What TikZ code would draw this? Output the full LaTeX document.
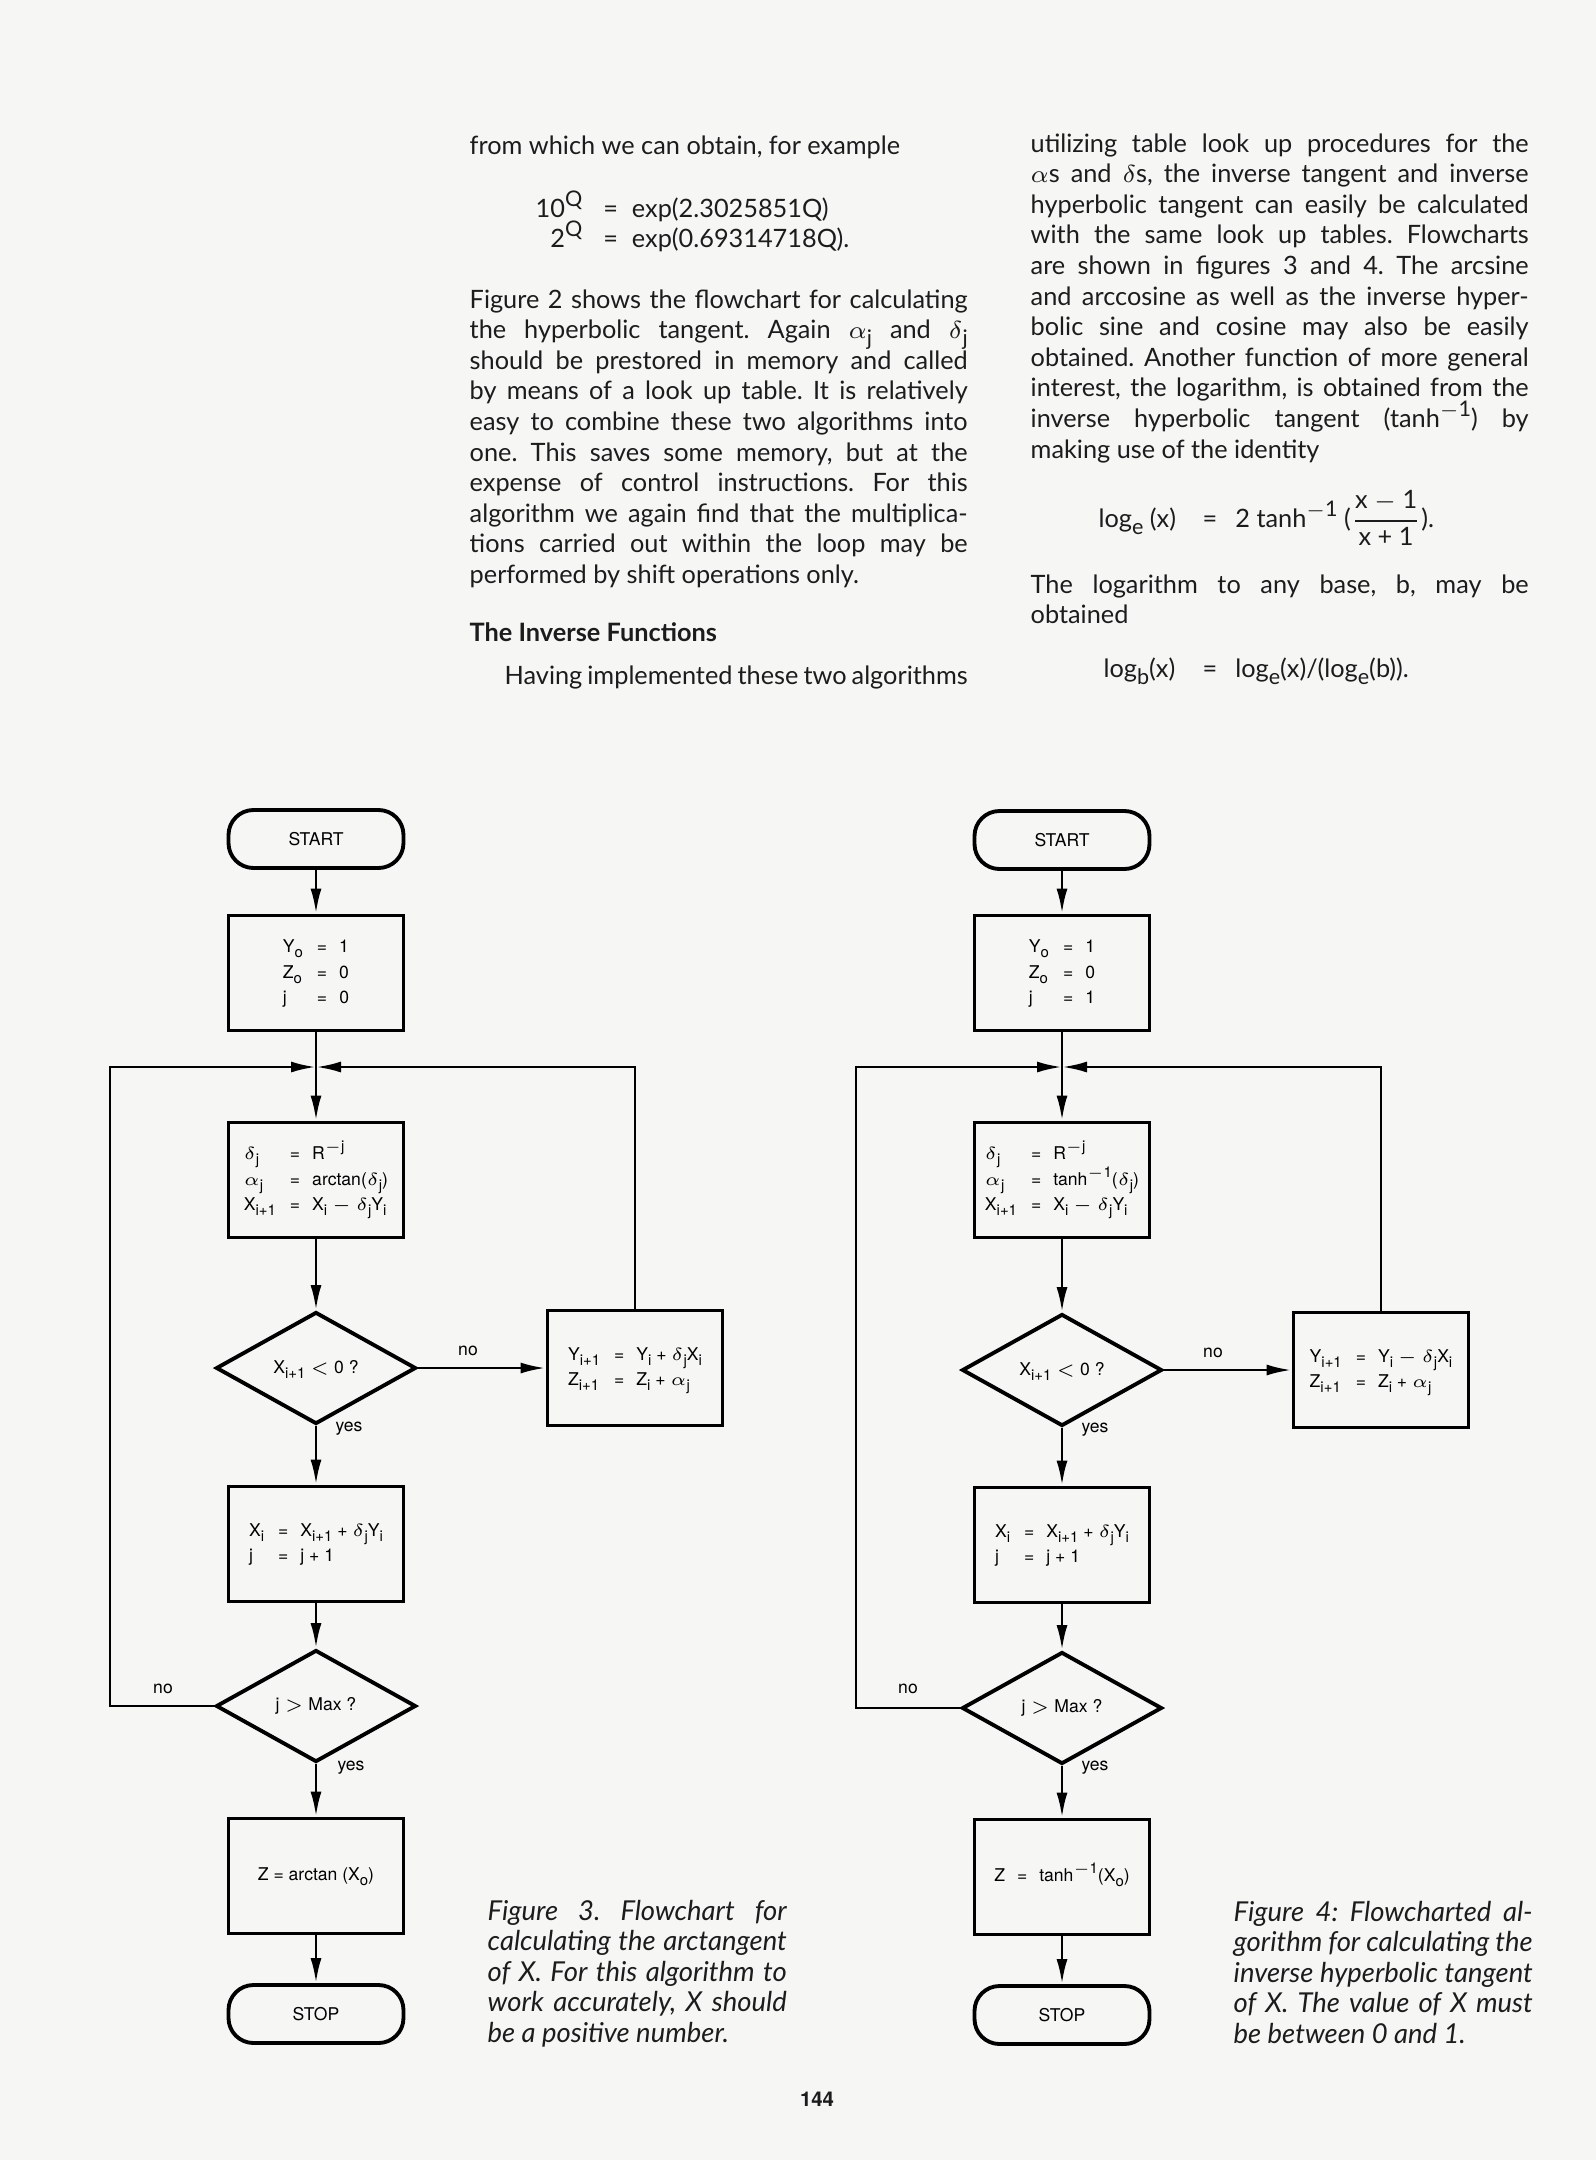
\documentclass[tikz,border=0pt]{standalone}
\usepackage{graphicx}
\usepackage{fontspec}
\setmainfont{Lato}
\newfontfamily\chartfont{TeX Gyre Heros}
\usetikzlibrary{shapes.geometric,arrows.meta}

\definecolor{pagegray}{RGB}{246,246,245}
\definecolor{ink}{RGB}{28,28,28}

\tikzset{
  chartbox/.style={draw, line width=1.1pt, inner sep=0pt, minimum width=17.5mm,
    minimum height=11.5mm, font=\chartfont\fontsize{5}{7.2}\selectfont},
  terminal/.style={chartbox, rounded corners=2.5mm, minimum height=5.8mm},
  decision/.style={chartbox, diamond, minimum width=20mm, minimum height=11.2mm},
  flowlabel/.style={inner sep=0pt, font=\chartfont\fontsize{5}{6}\selectfont},
  link/.style={line width=0.8pt, -{Latex[length=2.5mm,width=1.1mm]}},
  bodytext/.style={inner sep=0pt, anchor=base west, text=ink,
    font=\fontsize{7.2}{8.71}\selectfont},
  captiontext/.style={bodytext, font=\itshape\fontsize{7.8}{8.71}\selectfont},
}

\newcommand{\sub}[1]{\smash{\raisebox{-0.55ex}{\scalebox{0.85}{#1}}}}
\newcommand{\sups}[1]{\smash{\raisebox{0.85ex}{\scalebox{0.85}{#1}}}}
\newcommand{\jline}[1]{\makebox[\linewidth][s]{#1}\\}
\frenchspacing

\begin{document}
\begin{tikzpicture}[x=0.1mm, y=-0.1mm]
\fill[pagegray] (0,0) rectangle (1596,2160);
\useasboundingbox (0,0) rectangle (1596,2160);

% text, left column
\node[bodytext] (opening) at (469,154) {from which we can obtain, for example};
\node[bodytext] (powers) at (535,217) {\begin{tabular}[t]{@{}r@{\hspace{2.1mm}=\hspace{1.4mm}}l@{}}
10\sups{Q} & exp(2.3025851Q)\\
2\sups{Q} & exp(0.69314718Q).
\end{tabular}};
\node[bodytext] (para1) at (469,308) {\begin{minipage}[t]{49.8mm}
\jline{Figure 2 shows the flowchart for calculating}
\jline{the hyperbolic tangent. Again $\alpha$\sub{j} and $\delta$\sub{j}}
\jline{should be prestored in memory and called}
\jline{by means of a look up table. It is relatively}
\jline{easy to combine these two algorithms into}
\jline{one. This saves some memory, but at the}
\jline{expense of control instructions. For this}
\jline{algorithm we again find that the multiplica-}
\jline{tions carried out within the loop may be}
performed by shift operations only.
\end{minipage}};
\node[bodytext, font=\bfseries\fontsize{7.2}{8.71}\selectfont] (heading) at (469,641) {The Inverse Functions};
\node[bodytext] (having) at (504,684) {\makebox[46.3mm][s]{Having implemented these two algorithms}};

% text, right column
\node[bodytext] (para2) at (1030,152) {\begin{minipage}[t]{49.8mm}
\jline{utilizing table look up procedures for the}
\jline{$\alpha$s and $\delta$s, the inverse tangent and inverse}
\jline{hyperbolic tangent can easily be calculated}
\jline{with the same look up tables. Flowcharts}
\jline{are shown in figures 3 and 4. The arcsine}
\jline{and arccosine as well as the inverse hyper-}
\jline{bolic sine and cosine may also be easily}
\jline{obtained. Another function of more general}
\jline{interest, the logarithm, is obtained from the}
\jline{inverse hyperbolic tangent (tanh\sups{$-$1}) by}
making use of the identity
\end{minipage}};
\node[bodytext] (identity) at (1098,527) {\makebox[10.4mm][l]{log\sub{e} (x)}=\hspace{1.8mm}2 tanh\sups{$-$1} ($\displaystyle\frac{\mbox{x $-$ 1}}{\mbox{x + 1}}$).};
\node[bodytext] (para3) at (1030,593) {\begin{minipage}[t]{49.8mm}
\jline{The logarithm to any base, b, may be}
obtained
\end{minipage}};
\node[bodytext] (anybase) at (1103,677) {\makebox[9.9mm][l]{log\sub{b}(x)}=\hspace{1.8mm}log\sub{e}(x)/(log\sub{e}(b)).};

% figure 3
\node[terminal] (start1) at (316,839) {START};
\node[chartbox] (init1) at (316,973) {\begin{tabular}{@{}l@{\hspace{1.4mm}=\hspace{1.2mm}}l@{}}
Y\sub{o} & 1\\ Z\sub{o} & 0\\ j & 0\end{tabular}};
\coordinate (j1) at (316,1067);
\node[chartbox] (body1) at (316,1180) {\begin{tabular}{@{}l@{\hspace{1.4mm}=\hspace{1.2mm}}l@{}}
$\delta$\sub{j} & R\sups{$-$j}\\
$\alpha$\sub{j} & arctan($\delta$\sub{j})\\
X\sub{i+1} & X\sub{i} $-$ $\delta$\sub{j}Y\sub{i}\end{tabular}};
\node[decision] (sign1) at (316,1368) {X\sub{i+1} $<$ 0 ?};
\node[chartbox] (upd1) at (635,1368) {\begin{tabular}{@{}l@{\hspace{1.4mm}=\hspace{1.2mm}}l@{}}
Y\sub{i+1} & Y\sub{i} + $\delta$\sub{j}X\sub{i}\\
Z\sub{i+1} & Z\sub{i} + $\alpha$\sub{j}\end{tabular}};
\node[chartbox] (step1) at (316,1544) {\begin{tabular}{@{}l@{\hspace{1.4mm}=\hspace{1.2mm}}l@{}}
X\sub{i} & X\sub{i+1} + $\delta$\sub{j}Y\sub{i}\\
j & j + 1\end{tabular}};
\node[decision] (max1) at (316,1706) {j $>$ Max ?};
\node[chartbox] (out1) at (316,1876) {Z = arctan (X\sub{o})};
\node[terminal] (stop1) at (316,2014) {STOP};
\coordinate (lx1) at (110,1067);

\draw[link] (start1) -- (init1);
\draw[link] (init1) -- (body1);
\draw[link] (body1) -- (sign1);
\draw[link] (sign1) -- (upd1);
\draw[link] (sign1) -- (step1);
\draw[link] (step1) -- (max1);
\draw[link] (max1) -- (out1);
\draw[link] (out1) -- (stop1);
\draw[link] (upd1.north) |- (j1);
\draw[link] (max1.west) -| (lx1) -- (j1);
\node[flowlabel] (no11) at (468,1351) {no};
\node[flowlabel] (yes11) at (349,1429) {yes};
\node[flowlabel] (no12) at (163,1689) {no};
\node[flowlabel] (yes12) at (351,1768) {yes};

% figure 4
\node[terminal] (start2) at (1062,840) {START};
\node[chartbox] (init2) at (1062,973) {\begin{tabular}{@{}l@{\hspace{1.4mm}=\hspace{1.2mm}}l@{}}
Y\sub{o} & 1\\ Z\sub{o} & 0\\ j & 1\end{tabular}};
\coordinate (j2) at (1062,1067);
\node[chartbox] (body2) at (1062,1180) {\begin{tabular}{@{}l@{\hspace{1.4mm}=\hspace{1.2mm}}l@{}}
$\delta$\sub{j} & R\sups{$-$j}\\
$\alpha$\sub{j} & tanh\sups{$-$1}($\delta$\sub{j})\\
X\sub{i+1} & X\sub{i} $-$ $\delta$\sub{j}Y\sub{i}\end{tabular}};
\node[decision] (sign2) at (1062,1370) {X\sub{i+1} $<$ 0 ?};
\node[chartbox] (upd2) at (1381,1370) {\begin{tabular}{@{}l@{\hspace{1.4mm}=\hspace{1.2mm}}l@{}}
Y\sub{i+1} & Y\sub{i} $-$ $\delta$\sub{j}X\sub{i}\\
Z\sub{i+1} & Z\sub{i} + $\alpha$\sub{j}\end{tabular}};
\node[chartbox] (step2) at (1062,1545) {\begin{tabular}{@{}l@{\hspace{1.4mm}=\hspace{1.2mm}}l@{}}
X\sub{i} & X\sub{i+1} + $\delta$\sub{j}Y\sub{i}\\
j & j + 1\end{tabular}};
\node[decision] (max2) at (1062,1708) {j $>$ Max ?};
\node[chartbox] (out2) at (1062,1877) {Z\hspace{1.2mm}=\hspace{1.2mm}tanh\sups{$-$1}(X\sub{o})};
\node[terminal] (stop2) at (1062,2015) {STOP};
\coordinate (lx2) at (856,1067);

\draw[link] (start2) -- (init2);
\draw[link] (init2) -- (body2);
\draw[link] (body2) -- (sign2);
\draw[link] (sign2) -- (upd2);
\draw[link] (sign2) -- (step2);
\draw[link] (step2) -- (max2);
\draw[link] (max2) -- (out2);
\draw[link] (out2) -- (stop2);
\draw[link] (upd2.north) |- (j2);
\draw[link] (max2.west) -| (lx2) -- (j2);
\node[flowlabel] (no21) at (1213,1353) {no};
\node[flowlabel] (yes21) at (1095,1430) {yes};
\node[flowlabel] (no22) at (908,1689) {no};
\node[flowlabel] (yes22) at (1095,1768) {yes};

% captions
\node[captiontext] (cap3) at (487,1920) {\begin{minipage}[t]{29.9mm}
\jline{Figure 3. Flowchart for}
\jline{calculating the arctangent}
\jline{of X. For this algorithm to}
\jline{work accurately, X should}
be a positive number.
\end{minipage}};
\node[captiontext] (cap4) at (1233,1921) {\begin{minipage}[t]{29.9mm}
\jline{Figure 4: Flowcharted al-}
\jline{gorithm for calculating the}
\jline{inverse hyperbolic tangent}
\jline{of X. The value of X must}
be between 0 and 1.
\end{minipage}};

\node[inner sep=0pt, text=ink, font=\chartfont\bfseries\fontsize{5.8}{7}\selectfont] (pageno) at (817,2099) {144};
\end{tikzpicture}
\end{document}
